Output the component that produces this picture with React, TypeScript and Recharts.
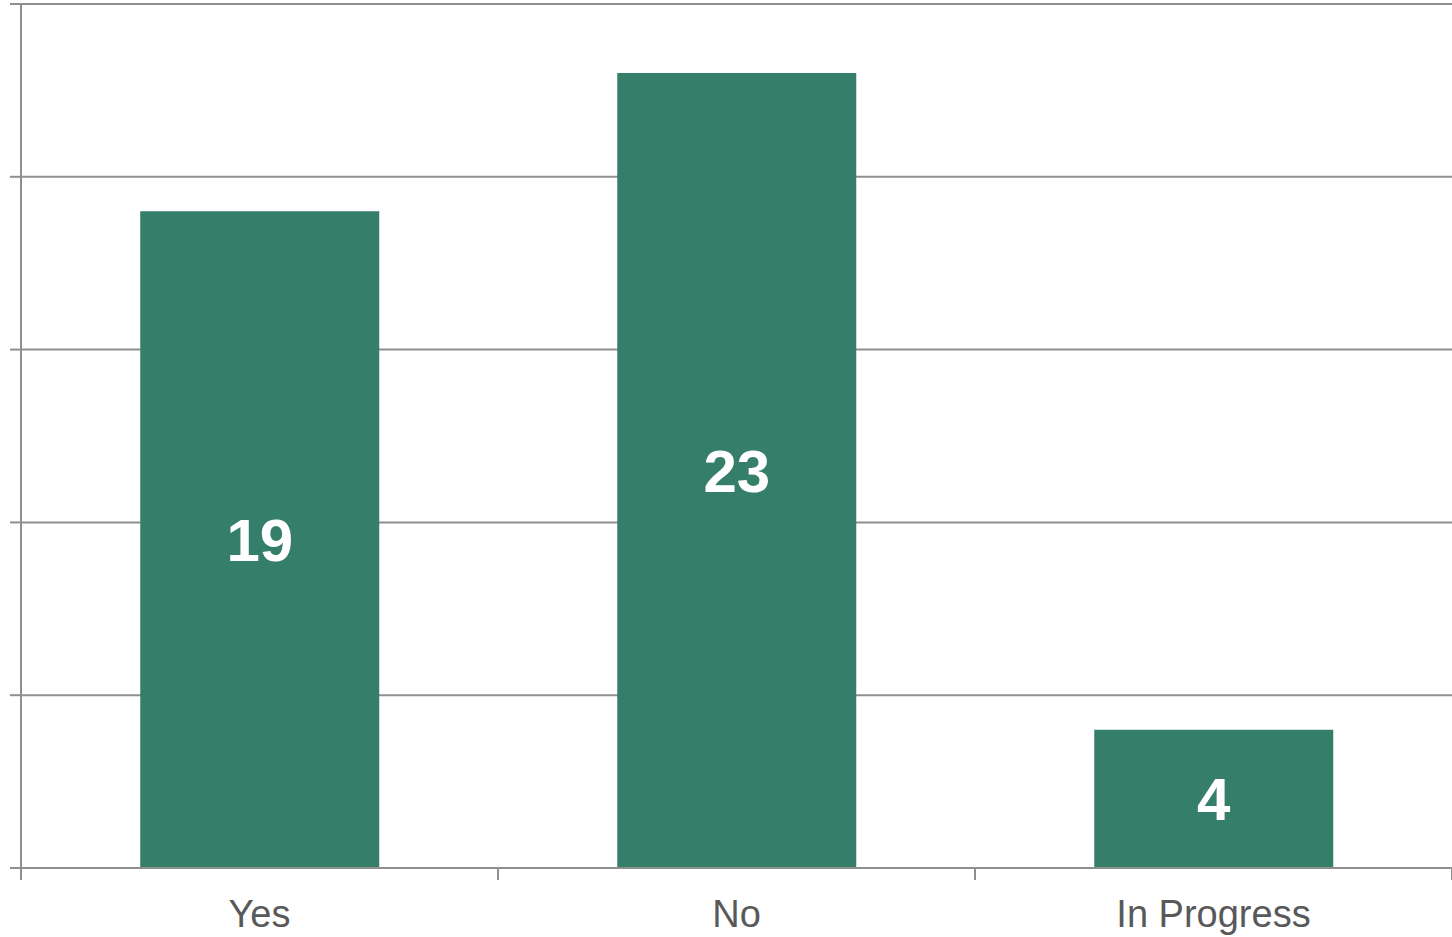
import { BarChart, Bar, XAxis, YAxis, CartesianGrid, LabelList } from 'recharts'

const CATEGORIES = ['Yes', 'No', 'In Progress']
const COUNTS = [19, 23, 4]
// midpoint of each category slot on the 0..3 edge axis
const SLOTS = [0.5, 1.5, 2.5]
const Y_TICKS = [0, 5, 10, 15, 20, 25]
// boundaries sit on whole numbers, category labels on the halves
const EDGE_TICKS = [0, 0.5, 1, 1.5, 2, 2.5, 3]

const BAR_COLOR = '#357e6a'
const LINE_COLOR = '#8f8f8f'
const FONT = '"Liberation Sans", Arial, sans-serif'

const data = CATEGORIES.map((name, i) => ({ name, value: COUNTS[i], slot: SLOTS[i] }))

function EdgeTick({ x, y, payload }: any) {
  const v = payload.value as number
  if (Number.isInteger(v)) {
    return <line x1={x} x2={x} y1={y} y2={y + 12} stroke={LINE_COLOR} strokeWidth={2} />
  }
  const label = CATEGORIES[Math.floor(v)]
  return (
    <text x={x} y={y + 59} textAnchor="middle" fontSize={38} fill="#595959" fontFamily={FONT}>
      {label}
    </text>
  )
}

export default function App() {
  return (
    <div style={{ position: 'absolute', left: 0, top: 0, background: '#fff' }}>
      <BarChart
        width={1452}
        height={937}
        data={data}
        margin={{ top: 4, right: 0, left: 0, bottom: 0 }}
        barCategoryGap="25%"
      >
        <CartesianGrid vertical={false} stroke={LINE_COLOR} strokeWidth={2} />
        <XAxis xAxisId="cat" dataKey="name" hide height={0} />
        <XAxis
          xAxisId="edge"
          dataKey="slot"
          type="number"
          domain={[0, 3]}
          ticks={EDGE_TICKS}
          allowDataOverflow
          height={69}
          tickSize={0}
          tickMargin={0}
          tickLine={false}
          axisLine={{ stroke: LINE_COLOR, strokeWidth: 2 }}
          tick={<EdgeTick />}
          interval={0}
        />
        <YAxis
          domain={[0, 25]}
          ticks={Y_TICKS}
          width={21}
          tickSize={11}
          tickFormatter={() => ''}
          axisLine={{ stroke: LINE_COLOR, strokeWidth: 2 }}
          tickLine={{ stroke: LINE_COLOR, strokeWidth: 2 }}
        />
        <Bar xAxisId="cat" dataKey="value" fill={BAR_COLOR} isAnimationActive={false}>
          <LabelList
            dataKey="value"
            position="center"
            fill="#ffffff"
            fontSize={60}
            fontWeight="bold"
            fontFamily={FONT}
          />
        </Bar>
      </BarChart>
    </div>
  )
}
